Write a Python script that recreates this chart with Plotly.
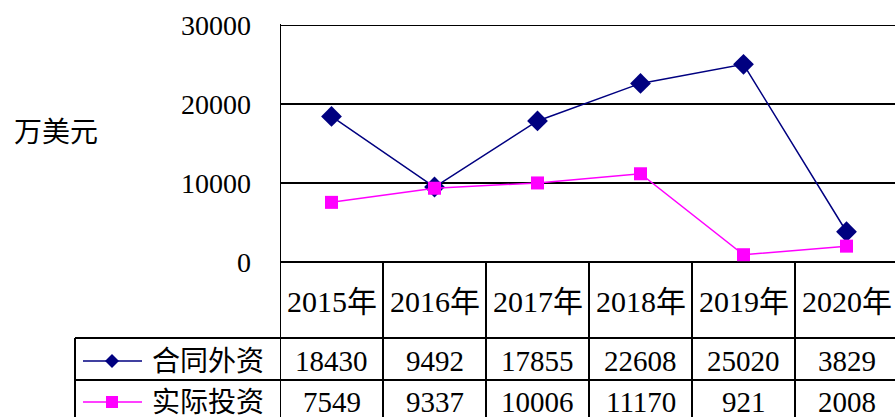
import plotly.graph_objects as go

categories = ["2015年", "2016年", "2017年", "2018年", "2019年", "2020年"]
contract = [18430, 9492, 17855, 22608, 25020, 3829]
actual = [7549, 9337, 10006, 11170, 921, 2008]
series_names = ["合同外资", "实际投资"]
y_ticks = [0, 10000, 20000, 30000]
unit_label = "万美元"

W, H = 895, 417
L, T, B_PX = 280, 25, 262
PW = W - L
PH = B_PX - T
NAVY = "#000080"
PINK = "#FF00FF"
SERIF = "Liberation Serif, Times New Roman, Noto Sans CJK SC"


def px_x(px):
    return (px - L) / PW


def px_y(py):
    return (B_PX - py) / PH


xs = list(range(len(categories)))
col_w = 103
x_max = -0.5 + PW / col_w

fig = go.Figure()
fig.add_trace(go.Scatter(x=xs, y=contract, mode="lines+markers", name=series_names[0],
                         line=dict(color=NAVY, width=1.5),
                         marker=dict(symbol="diamond", size=16, color=NAVY),
                         cliponaxis=False, showlegend=False))
fig.add_trace(go.Scatter(x=xs, y=actual, mode="lines+markers", name=series_names[1],
                         line=dict(color=PINK, width=1.5),
                         marker=dict(symbol="square", size=13, color=PINK),
                         cliponaxis=False, showlegend=False))

shapes = []
lw = 2
# top gridline at 30000
shapes.append(dict(type="line", xref="paper", yref="y", x0=0, x1=1.01,
                   y0=y_ticks[-1], y1=y_ticks[-1], line=dict(color="black", width=lw)))
# left border of chart/table
shapes.append(dict(type="line", xref="x", yref="paper", x0=-0.5, x1=-0.5,
                   y0=1.004, y1=px_y(H + 5), line=dict(color="black", width=lw)))
# column separators in table
for i in range(len(categories)):
    xv = i + 0.5
    shapes.append(dict(type="line", xref="x", yref="paper", x0=xv, x1=xv,
                       y0=0, y1=px_y(H + 5), line=dict(color="black", width=lw)))
# horizontal table lines
for py in [338, 380]:
    shapes.append(dict(type="line", xref="paper", yref="paper", x0=px_x(75), x1=px_x(W + 5),
                       y0=px_y(py), y1=px_y(py), line=dict(color="black", width=lw)))
# left table box border
shapes.append(dict(type="line", xref="paper", yref="paper", x0=px_x(75), x1=px_x(75),
                   y0=px_y(338), y1=px_y(H + 5), line=dict(color="black", width=lw)))

# legend samples
row_y = [361, 402]
colors = [NAVY, PINK]
for k in range(2):
    yy = px_y(row_y[k])
    shapes.append(dict(type="line", xref="paper", yref="paper", x0=px_x(83), x1=px_x(142),
                       y0=yy, y1=yy, line=dict(color=colors[k], width=1.5)))
    if k == 0:
        path = "M0,7 L7,0 L0,-7 L-7,0 Z"
    else:
        path = "M-6,-6 L6,-6 L6,6 L-6,6 Z"
    shapes.append(dict(type="path", xref="paper", yref="paper", xsizemode="pixel",
                       ysizemode="pixel", xanchor=px_x(112), yanchor=yy, path=path,
                       fillcolor=colors[k], line=dict(color=colors[k], width=0)))

annotations = []
annotations.append(dict(text=unit_label, xref="paper", yref="paper", x=px_x(12), y=px_y(132),
                        xanchor="left", yanchor="middle", showarrow=False,
                        font=dict(family=SERIF, size=28, color="black")))
for i, c in enumerate(categories):
    annotations.append(dict(text=c, xref="x", yref="paper", x=i, y=px_y(301),
                            xanchor="center", yanchor="middle", showarrow=False,
                            font=dict(family=SERIF, size=30, color="black")))
    for k, vals in enumerate([contract, actual]):
        annotations.append(dict(text=str(vals[i]), xref="x", yref="paper", x=i, y=px_y(row_y[k]),
                                xanchor="center", yanchor="middle", showarrow=False,
                                font=dict(family=SERIF, size=29, color="black")))
for k, nm in enumerate(series_names):
    annotations.append(dict(text=nm, xref="paper", yref="paper", x=px_x(150), y=px_y(row_y[k]),
                            xanchor="left", yanchor="middle", showarrow=False,
                            font=dict(family=SERIF, size=28, color="black")))

fig.update_layout(
    width=W, height=H,
    margin=dict(l=L, r=0, t=T, b=H - B_PX, pad=0),
    paper_bgcolor="white", plot_bgcolor="white",
    showlegend=False,
    shapes=shapes, annotations=annotations,
    xaxis=dict(range=[-0.5, x_max], showgrid=False, zeroline=False, showticklabels=False,
               showline=False, ticks="", fixedrange=True),
    yaxis=dict(range=[0, 30000], tickvals=y_ticks, ticktext=[str(v) for v in y_ticks],
               showgrid=True, gridcolor="black", gridwidth=2, zeroline=True,
               zerolinecolor="black", zerolinewidth=2, showline=False, ticks="",
               ticklabelstandoff=28,
               tickfont=dict(family=SERIF, size=28, color="black"), fixedrange=True),
)

fig.write_html("out.html", config={"displayModeBar": False},
               post_script="document.body.style.margin='0';document.body.style.overflow='hidden';")
